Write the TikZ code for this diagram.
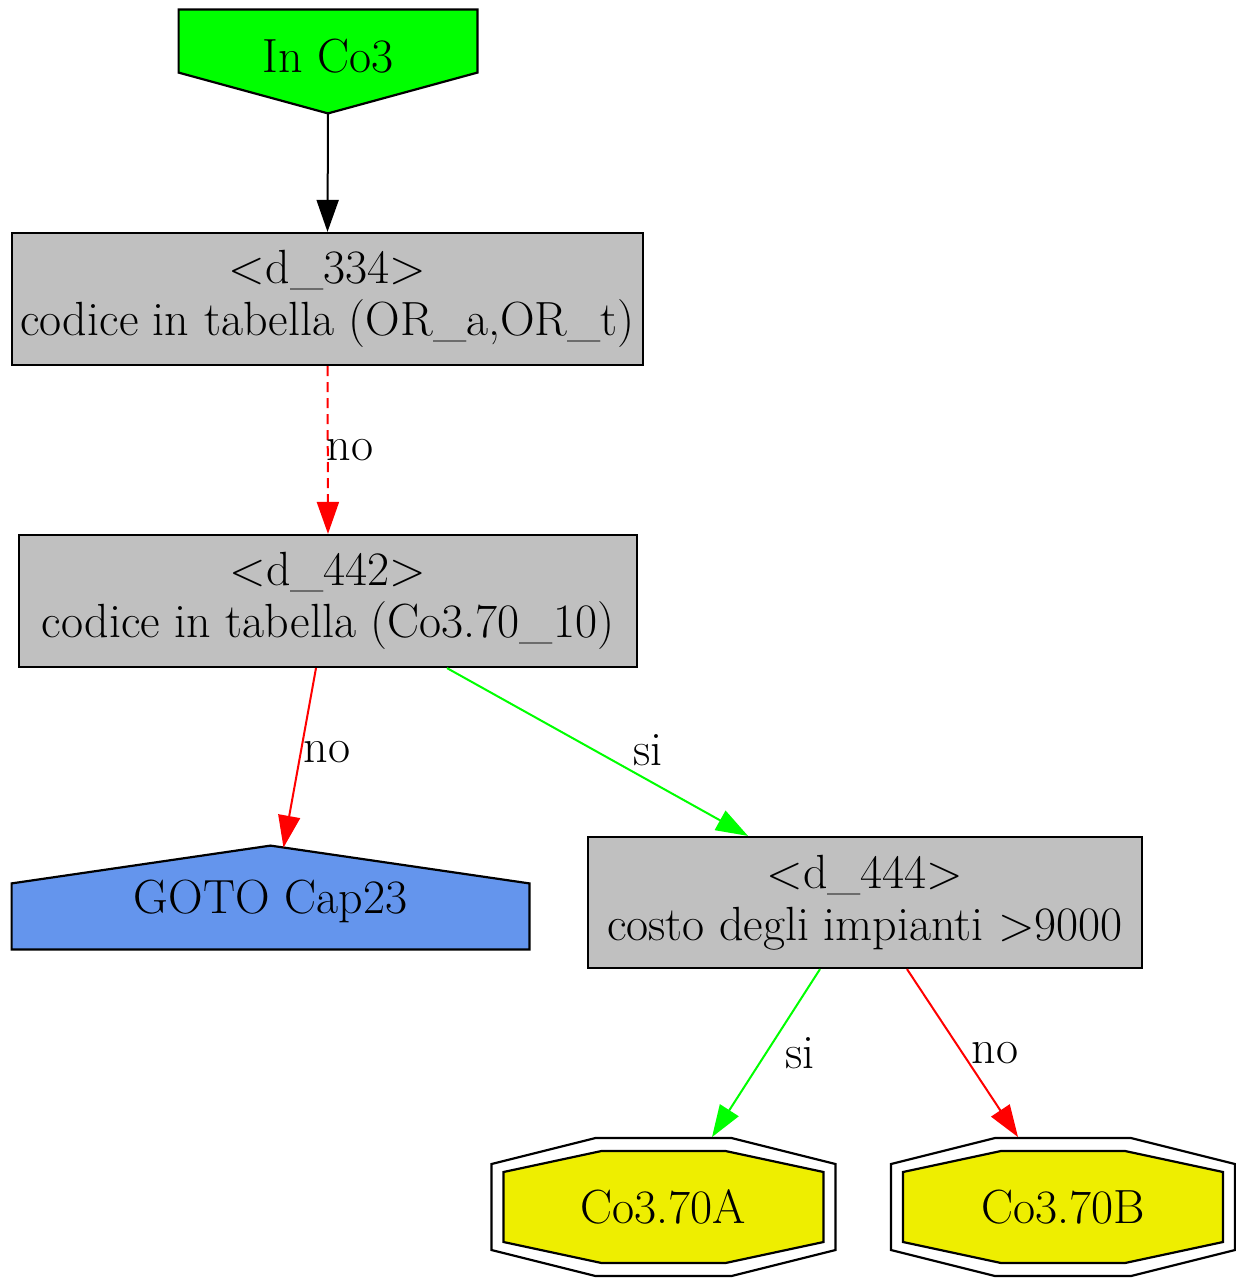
\documentclass[tikz,border=0pt]{standalone}
\usepackage{xcolor}
\usepackage{tikz}
\usetikzlibrary{arrows.meta,calc,backgrounds}

\definecolor{gvgreen}{RGB}{0,255,0}
\definecolor{gvgray}{RGB}{192,192,192}
\definecolor{gvblue}{RGB}{100,149,237}
\definecolor{gvyellow}{RGB}{238,238,0}

\begin{document}
\begin{tikzpicture}[
  x=0.5pt, y=-0.5pt,
  every node/.style={font=\fontsize{24}{26}\selectfont},
  dec/.style={draw, line width=1.1pt, fill=gvgray, align=center, inner sep=1pt, minimum height=66pt},
  shp/.style={inner sep=0pt, align=center},
  lbl/.style={inner sep=0pt},
  edge/.style={line width=1pt, -{Triangle[length=16pt,width=11pt]}},
  outl/.style={draw, line width=1.1pt}
]
\useasboundingbox (0,0) rectangle (1236,1279);

% Start and exit shapes (text only, outlines on background)
\node[shp, minimum width=149pt, minimum height=51.5pt, text depth=5.5pt] (inco3) at (328,61.5) {In Co3};
\node[shp, minimum width=258.5pt, minimum height=51.5pt, text height=21pt] (goto23) at (270.5,897.5) {GOTO Cap23};

% Decision boxes
\node[dec, minimum width=315.5pt] (d334) at (327.5,299) {<d\_334>\\codice in tabella (OR\_a,OR\_t)};
\node[dec, minimum width=309pt]   (d442) at (328,601)   {<d\_442>\\codice in tabella (Co3.70\_10)};
\node[dec, minimum width=277pt, minimum height=65.5pt] (d444) at (865,902.5) {<d\_444>\\costo degli impianti >9000};

% Final results
\node[shp, minimum width=172.5pt, minimum height=69.5pt] (c70a) at (663.5,1207) {Co3.70A};
\node[shp, minimum width=172.5pt, minimum height=69.5pt] (c70b) at (1063,1207)  {Co3.70B};

\begin{scope}[on background layer]
  \draw[outl, fill=gvgreen] (inco3.north west) -- (inco3.north east) -- ($(inco3.north east)+(0,63)$)
    -- (inco3.south) -- ($(inco3.north west)+(0,63)$) -- cycle;
  \draw[outl, fill=gvblue] (goto23.south west) -- (goto23.south east) -- ($(goto23.south east)+(0,-66)$)
    -- (goto23.north) -- ($(goto23.south west)+(0,-66)$) -- cycle;
  \foreach \n in {c70a,c70b}{
    \draw[outl] ($(\n)+(-172,-43)$) -- ($(\n)+(-68,-69)$) -- ($(\n)+(68,-69)$) -- ($(\n)+(172,-43)$)
      -- ($(\n)+(172,43)$) -- ($(\n)+(68,69)$) -- ($(\n)+(-68,69)$) -- ($(\n)+(-172,43)$) -- cycle;
    \draw[outl, fill=gvyellow] ($(\n)+(-160,-35)$) -- ($(\n)+(-62,-56)$) -- ($(\n)+(62,-56)$) -- ($(\n)+(160,-35)$)
      -- ($(\n)+(160,35)$) -- ($(\n)+(62,56)$) -- ($(\n)+(-62,56)$) -- ($(\n)+(-160,35)$) -- cycle;
  }
\end{scope}

% Connectors
\draw[edge] (inco3.south) -- (d334.north);
\draw[edge, red, dash pattern=on 5pt off 3pt] (d334.south) -- (d442.north);
\draw[edge, red] ([xshift=-6pt]d442.south) -- ([xshift=6.5pt,yshift=-1pt]goto23.north);
\draw[edge, gvgreen] ([xshift=59.5pt]d442.south) -- ([xshift=-58.5pt]d444.north);
\draw[edge, gvgreen] ([xshift=-22.5pt]d444.south) -- ([xshift=24.25pt]c70a.north);
\draw[edge, red] ([xshift=21pt]d444.south) -- ([xshift=-22.5pt]c70b.north);

% Edge labels
\node[lbl] (l1) at (350,450)  {no};
\node[lbl] (l2) at (327,752)  {no};
\node[lbl] (l3) at (648,750)  {si};
\node[lbl] (l4) at (800,1053) {si};
\node[lbl] (l5) at (995,1053) {no};
\end{tikzpicture}
\end{document}
